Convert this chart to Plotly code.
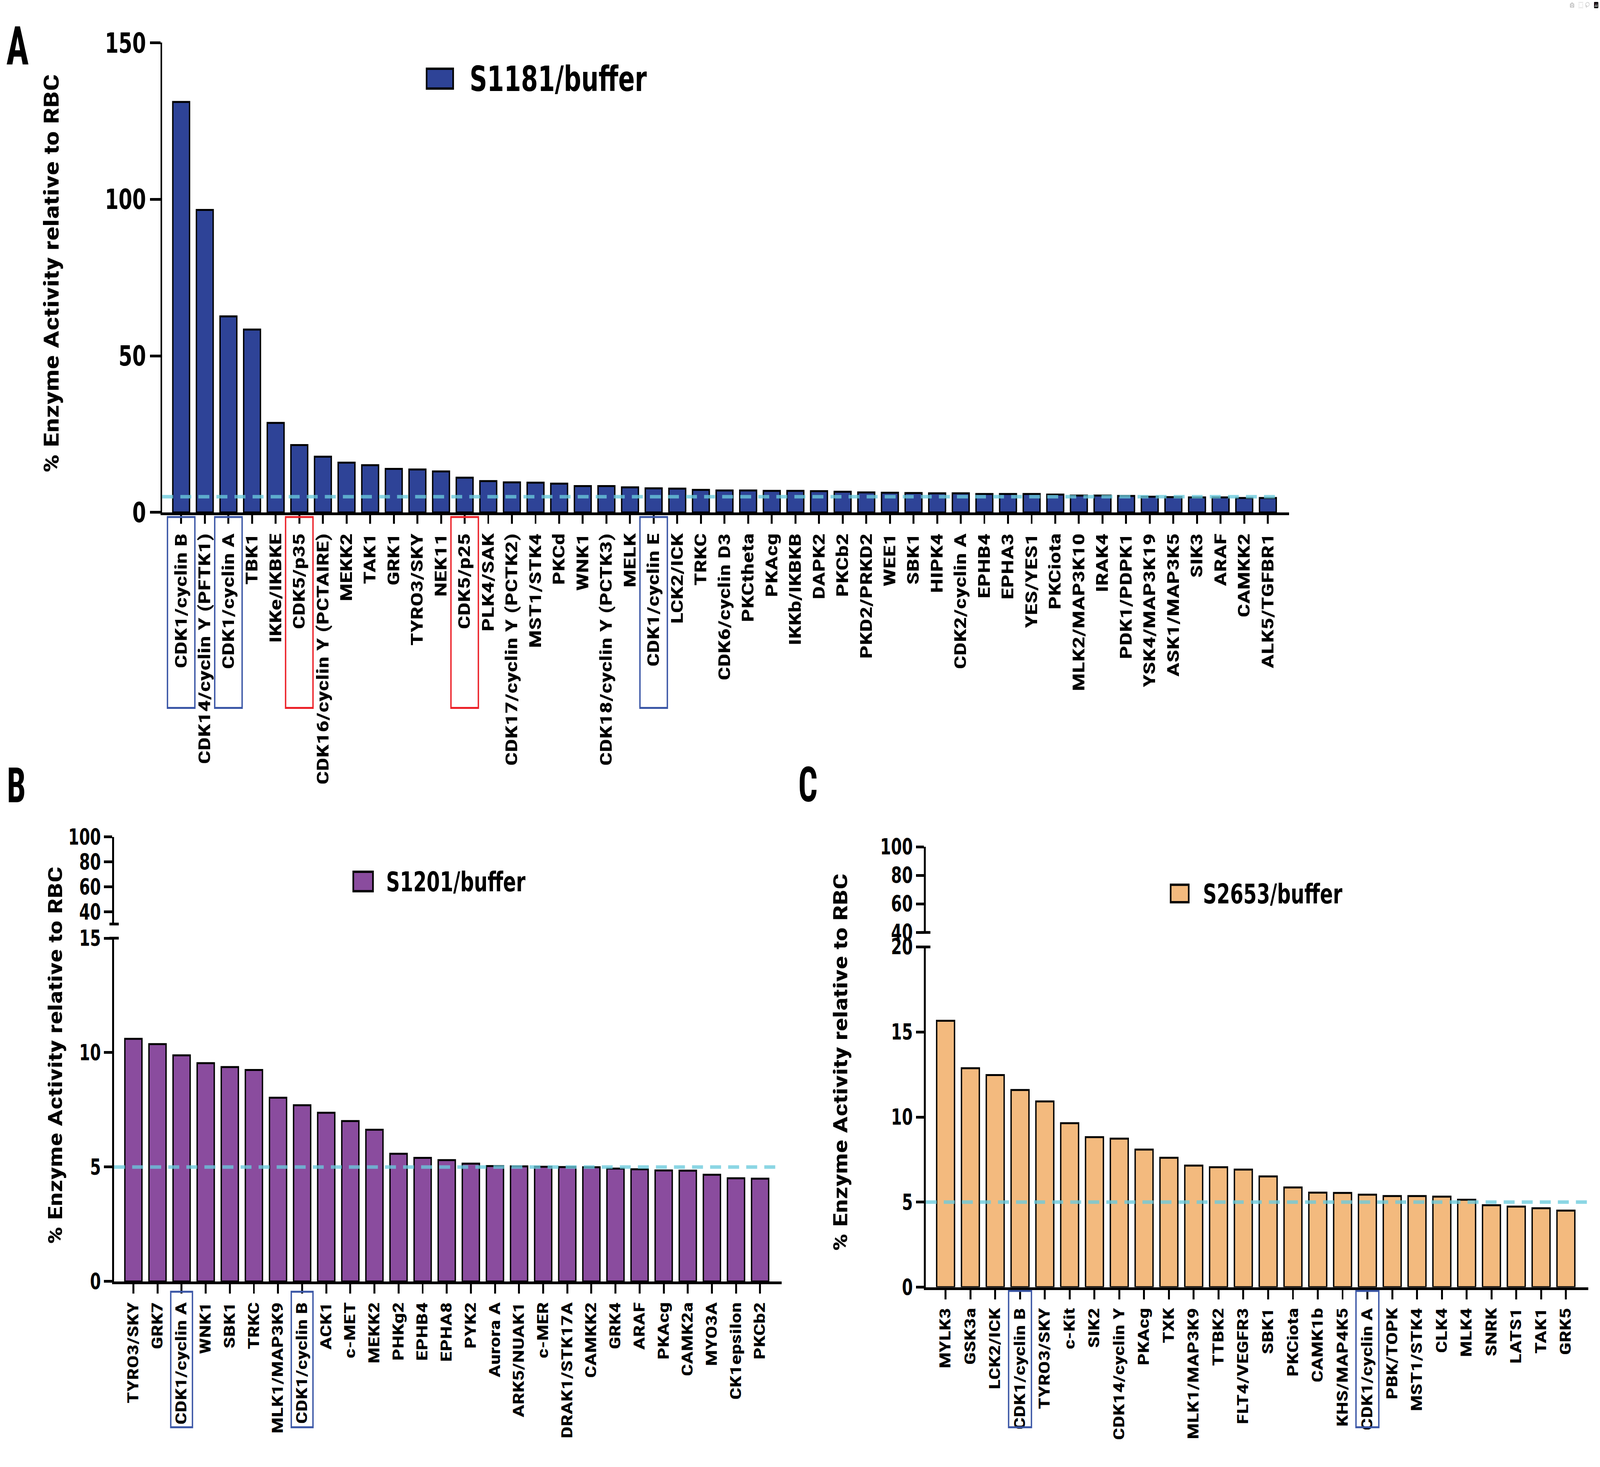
import plotly.graph_objects as go

W, H = 5847, 3756

# ---------------- data ----------------
a_labels = ["CDK1/cyclin B", "CDK14/cyclin Y (PFTK1)", "CDK1/cyclin A", "TBK1", "IKKe/IKBKE",
            "CDK5/p35", "CDK16/cyclin Y (PCTAIRE)", "MEKK2", "TAK1", "GRK1", "TYRO3/SKY", "NEK11",
            "CDK5/p25", "PLK4/SAK", "CDK17/cyclin Y (PCTK2)", "MST1/STK4", "PKCd", "WNK1",
            "CDK18/cyclin Y (PCTK3)", "MELK", "CDK1/cyclin E", "LCK2/ICK", "TRKC", "CDK6/cyclin D3",
            "PKCtheta", "PKAcg", "IKKb/IKBKB", "DAPK2", "PKCb2", "PKD2/PRKD2", "WEE1", "SBK1", "HIPK4",
            "CDK2/cyclin A", "EPHB4", "EPHA3", "YES/YES1", "PKCiota", "MLK2/MAP3K10", "IRAK4",
            "PDK1/PDPK1", "YSK4/MAP3K19", "ASK1/MAP3K5", "SIK3", "ARAF", "CAMKK2", "ALK5/TGFBR1"]
a_values = [131.1, 96.6, 62.6, 58.4, 28.6, 21.5, 17.8, 15.9, 15.1, 13.9,
            13.7, 13.1, 11.1, 10.0, 9.6, 9.5, 9.2, 8.4, 8.4, 8.0,
            7.7, 7.6, 7.2, 7.0, 7.0, 6.9, 6.9, 6.8, 6.6, 6.4,
            6.3, 6.2, 6.1, 6.1, 5.9, 5.9, 5.9, 5.7, 5.4, 5.4,
            5.25, 5.0, 4.9, 4.8, 4.8, 4.6, 4.6]
a_blue_boxes = ["CDK1/cyclin B", "CDK1/cyclin A", "CDK1/cyclin E"]
a_red_boxes = ["CDK5/p35", "CDK5/p25"]

b_labels = ["TYRO3/SKY", "GRK7", "CDK1/cyclin A", "WNK1", "SBK1", "TRKC", "MLK1/MAP3K9",
            "CDK1/cyclin B", "ACK1", "c-MET", "MEKK2", "PHKg2", "EPHB4", "EPHA8", "PYK2",
            "Aurora A", "ARK5/NUAK1", "c-MER", "DRAK1/STK17A", "CAMKK2", "GRK4", "ARAF",
            "PKAcg", "CAMK2a", "MYO3A", "CK1epsilon", "PKCb2"]
b_values = [10.6, 10.37, 9.88, 9.54, 9.37, 9.24, 8.03, 7.70, 7.37, 7.01,
            6.63, 5.58, 5.40, 5.30, 5.15, 5.04, 5.03, 5.01, 5.0, 4.99,
            4.93, 4.90, 4.85, 4.84, 4.66, 4.51, 4.49]
b_blue_boxes = ["CDK1/cyclin A", "CDK1/cyclin B"]

c_labels = ["MYLK3", "GSK3a", "LCK2/ICK", "CDK1/cyclin B", "TYRO3/SKY", "c-Kit", "SIK2",
            "CDK14/cyclin Y", "PKAcg", "TXK", "MLK1/MAP3K9", "TTBK2", "FLT4/VEGFR3", "SBK1",
            "PKCiota", "CAMK1b", "KHS/MAP4K5", "CDK1/cyclin A", "PBK/TOPK", "MST1/STK4",
            "CLK4", "MLK4", "SNRK", "LATS1", "TAK1", "GRK5"]
c_values = [15.66, 12.87, 12.47, 11.59, 10.92, 9.64, 8.82, 8.73, 8.09, 7.61,
            7.15, 7.05, 6.91, 6.51, 5.86, 5.56, 5.54, 5.44, 5.36, 5.36,
            5.32, 5.14, 4.82, 4.74, 4.64, 4.50]
c_blue_boxes = ["CDK1/cyclin B", "CDK1/cyclin A"]

threshold = 5
legend_names = ["S1181/buffer", "S1201/buffer", "S2653/buffer"]
panel_letters = ["A", "B", "C"]
y_title = "% Enzyme Activity relative to RBC"

# ---------------- style ----------------
BLUE = "#2E4397"
PURPLE = "#8A4C9E"
ORANGE = "#F3BA7E"
BOX_BLUE = "#3A56A6"
BOX_RED = "#EC2027"
DASH_COL = "rgba(106,203,220,0.78)"
NARROW = "Roboto Condensed, Liberation Sans, sans-serif"
WIDE = "DejaVu Sans"


def px(x):
    return x / W


def py(y):
    return 1 - y / H


fig = go.Figure()

fig.add_trace(go.Bar(x=a_labels, y=a_values, xaxis="x", yaxis="y", width=0.71,
                     marker=dict(color=BLUE, line=dict(color="black", width=5)), showlegend=False))
fig.add_trace(go.Bar(x=b_labels, y=b_values, xaxis="x2", yaxis="y2", width=0.71,
                     marker=dict(color=PURPLE, line=dict(color="black", width=5)), showlegend=False))
fig.add_trace(go.Scatter(x=[], y=[], xaxis="x2", yaxis="y3", showlegend=False))
fig.add_trace(go.Bar(x=c_labels, y=c_values, xaxis="x3", yaxis="y4", width=0.72,
                     marker=dict(color=ORANGE, line=dict(color="black", width=5)), showlegend=False))
fig.add_trace(go.Scatter(x=[], y=[], xaxis="x3", yaxis="y5", showlegend=False))

axis_common = dict(showgrid=False, zeroline=False, showline=True, linecolor="black",
                   linewidth=7, ticks="outside", tickwidth=7, tickcolor="black", fixedrange=True)


def xax(dom, anchor, n, lab_size, ticklen):
    return dict(axis_common, domain=dom, anchor=anchor, type="category",
                range=[-0.8, n - 0.1], tickangle=-90, ticklen=ticklen,
                tickfont=dict(family=NARROW, size=lab_size, color="black", weight="bold"))


def yax(dom, anchor, rng, vals, size, ticklen):
    return dict(axis_common, domain=dom, anchor=anchor, range=rng, tickvals=vals,
                ticklen=ticklen,
                tickfont=dict(family=WIDE, size=size, color="black", weight="bold"))


fig.update_layout(
    width=W, height=H, autosize=False,
    margin=dict(l=0, r=0, t=0, b=0),
    paper_bgcolor="white", plot_bgcolor="white",
    xaxis=xax([px(593), px(4711)], "y", len(a_labels), 61, 22),
    yaxis=yax([py(1299), py(69)], "x", [0, 150], [0, 50, 100, 150], 72, 38),
    xaxis2=xax([px(417), px(2857)], "y2", len(b_labels), 55, 24),
    yaxis2=yax([py(3313), py(2414)], "x2", [0, 15], [0, 5, 10, 15], 57, 30),
    yaxis3=yax([py(2377), py(2149)], "x2", [30.2, 100], [40, 60, 80, 100], 57, 30),
    xaxis3=xax([px(3383), px(5804)], "y4", len(c_labels), 55, 24),
    yaxis4=yax([py(3328), py(2437)], "x3", [0, 20], [0, 5, 10, 15, 20], 57, 29),
    yaxis5=yax([py(2399), py(2175)], "x3", [40, 100], [40, 60, 80, 100], 57, 29),
)

shapes = []
for xr, yr, end in [("x domain", "y", 0.99), ("x2 domain", "y2", 1.0), ("x3 domain", "y4", 1.0)]:
    shapes.append(dict(type="line", xref=xr, yref=yr, x0=0, x1=end, y0=threshold, y1=threshold,
                       line=dict(color=DASH_COL, width=9, dash="40px,26px"), layer="above"))


def box(xref, labels, name, half, y0, y1, color):
    i = labels.index(name)
    return dict(type="rect", xref=xref, yref="paper", x0=i - half, x1=i + half,
                y0=py(y1), y1=py(y0), line=dict(color=color, width=5), fillcolor="rgba(0,0,0,0)")


for n in a_blue_boxes:
    shapes.append(box("x", a_labels, n, 0.58, 1311, 1811, BOX_BLUE))
for n in a_red_boxes:
    shapes.append(box("x", a_labels, n, 0.58, 1311, 1811, BOX_RED))
for n in b_blue_boxes:
    shapes.append(box("x2", b_labels, n, 0.45, 3340, 3695, BOX_BLUE))
for n in c_blue_boxes:
    shapes.append(box("x3", c_labels, n, 0.46, 3338, 3695, BOX_BLUE))

for ax_x, yy in [(417, 2414), (417, 2377), (3383, 2437), (3383, 2399)]:
    shapes.append(dict(type="line", xref="paper", yref="paper", x0=px(ax_x - 17), x1=px(ax_x + 17),
                       y0=py(yy), y1=py(yy), line=dict(color="black", width=7)))

for (x0, y0, x1, y1), col in zip([(1559, 137, 1656, 189), (1291, 2240, 1363, 2291), (4278, 2274, 4344, 2320)],
                                 [BLUE, PURPLE, ORANGE]):
    shapes.append(dict(type="rect", xref="paper", yref="paper", x0=px(x0), x1=px(x1),
                       y0=py(y1), y1=py(y0), fillcolor=col, line=dict(color="black", width=6)))

fig.update_layout(shapes=shapes)

ann = []
for name, (x, y, s) in zip(legend_names, [(1714, 164, 89), (1409, 2267, 70), (4394, 2298, 70)]):
    ann.append(dict(text=name, xref="paper", yref="paper", x=px(x), y=py(y), xanchor="left",
                    yanchor="middle", showarrow=False,
                    font=dict(family=WIDE, size=s, color="black", weight="bold")))
for x, y, s in [(188, 674, 76), (202, 2722, 72), (3072, 2740, 72)]:
    ann.append(dict(text=y_title, xref="paper", yref="paper", x=px(x), y=py(y), xanchor="center",
                    yanchor="middle", textangle=-90, showarrow=False,
                    font=dict(family=NARROW, size=s, color="black", weight="bold")))
for t, (x, y, s) in zip(panel_letters, [(64, 78, 138), (60, 2015, 124), (2952, 2012, 124)]):
    ann.append(dict(text=t, xref="paper", yref="paper", x=px(x), y=py(y), xanchor="center",
                    yanchor="middle", showarrow=False,
                    font=dict(family=NARROW, size=s, color="black", weight="bold")))

fig.update_layout(annotations=ann)

# The browser caps its window width below 5847 px: map the 5847x3756 figure
# onto the whole viewport so the photograph covers the same frame as asked.
post = """
(function(){
  var W=5847, H=3756;
  var de=document.documentElement, b=document.body;
  de.style.margin='0'; b.style.margin='0';
  de.style.overflow='hidden';
  b.style.width=W+'px'; b.style.height=H+'px'; b.style.overflow='visible';
  var sx=window.innerWidth/W, sy=window.innerHeight/H;
  if (sx < 0.999 || sy < 0.999) {
    sx=Math.min(sx,1); sy=Math.min(sy,1);
    b.style.transformOrigin='0 0';
    b.style.transform='scale('+sx+','+sy+')';
  }
})();
"""
fig.write_html("out.html", post_script=post)
